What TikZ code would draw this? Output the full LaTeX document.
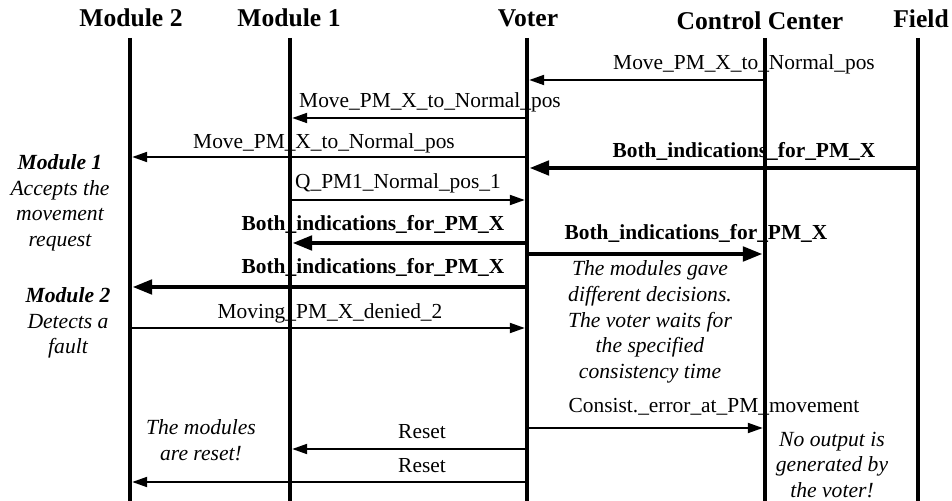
\documentclass[tikz,border=0pt]{standalone}
\usepackage{fontspec}
\setmainfont{Liberation Serif}
\usetikzlibrary{arrows.meta, positioning}

\begin{document}
\begin{tikzpicture}[x=0.5pt, y=-0.5pt,
  lifeline/.style={line width=2.2pt},
  msg/.style={line width=1pt, -{Triangle[length=7.5pt,width=5pt]}, shorten >=1.1pt},
  bmsg/.style={line width=2.4pt, -{Triangle[length=10pt,width=7pt]}, shorten >=1.1pt},
  actor/.style={font=\fontsize{12.8}{15}\selectfont\bfseries, anchor=base, inner sep=0pt},
  lbl/.style={font=\fontsize{10.7}{12.8}\selectfont, anchor=base, inner sep=0pt},
  blbl/.style={lbl, font=\fontsize{10.7}{12.8}\selectfont\bfseries},
  note/.style={font=\fontsize{10.8}{12.8}\selectfont\itshape, align=center, inner sep=0pt}]
\useasboundingbox (0,0) rectangle (952,501);

% lifelines
\foreach \n/\x in {m2/130, m1/290, vot/527, cc/765, fld/918} {
  \coordinate (\n) at (\x,38);
  \coordinate (\n-end) at (\x,501);
  \draw[lifeline] (\n) -- (\n-end);
}

% actors
\node[actor] (t-m2) at (131,27) {Module 2};
\node[actor] (t-m1) at (289,27) {Module 1};
\node[actor] (t-vot) at (528,27) {Voter};
\node[actor] (t-cc) at (760,30) {Control Center};
\node[actor] (t-fld) at (921,28) {Field};

% message rows
\foreach \r/\y in {1/80, 2/118, 3/157, 4/168, 5/200, 6/243, 7/254, 8/287, 9/328, 10/428, 11/449, 12/482}
  \coordinate (r\r) at (0,\y);

\draw[msg] (cc |- r1) -- (vot |- r1);
\draw[msg] (vot |- r2) -- (m1 |- r2);
\draw[msg] (vot |- r3) -- (m2 |- r3);
\draw[bmsg] (fld |- r4) -- (vot |- r4);
\draw[msg] (m1 |- r5) -- (vot |- r5);
\draw[bmsg] (vot |- r6) -- (m1 |- r6);
\draw[bmsg] (vot |- r7) -- (cc |- r7);
\draw[bmsg] (vot |- r8) -- (m2 |- r8);
\draw[msg] (m2 |- r9) -- (vot |- r9);
\draw[msg] (vot |- r10) -- (cc |- r10);
\draw[msg] (vot |- r11) -- (m1 |- r11);
\draw[msg] (vot |- r12) -- (m2 |- r12);

% labels
\node[lbl] (l1) at (744,70) {Move\_PM\_X\_to\_Normal\_pos};
\node[lbl] (l2) at (430,108) {Move\_PM\_X\_to\_Normal\_pos};
\node[lbl] (l3) at (324,149) {Move\_PM\_X\_to\_Normal\_pos};
\node[blbl] (l4) at (744,158) {Both\_indications\_for\_PM\_X};
\node[lbl] (l5) at (398,189) {Q\_PM1\_Normal\_pos\_1};
\node[blbl] (l6) at (373,231) {Both\_indications\_for\_PM\_X};
\node[blbl] (l7) at (696,240) {Both\_indications\_for\_PM\_X};
\node[blbl] (l8) at (373,274) {Both\_indications\_for\_PM\_X};
\node[lbl] (l9) at (330,319) {Moving\_PM\_X\_denied\_2};
\node[lbl] (l10) at (714,413) {Consist.\_error\_at\_PM\_movement};
\node[lbl] (l11) at (422,439) {Reset};
\node[lbl] (l12) at (422,473) {Reset};

% notes
\node[note] (n1) at (60,203) {\textbf{Module 1}\\Accepts the\\movement\\request};
\node[note] (n2) at (68,323) {\textbf{Module 2}\\Detects a\\fault};
\node[note] (n3) at (650,322) {The modules gave\\different decisions.\\The voter waits for\\the specified\\consistency time};
\node[note] (n4) at (201,440) {The modules\\are reset!};
\node[note] (n5) at (832,465) {No output is\\generated by\\the voter!};
\end{tikzpicture}
\end{document}
